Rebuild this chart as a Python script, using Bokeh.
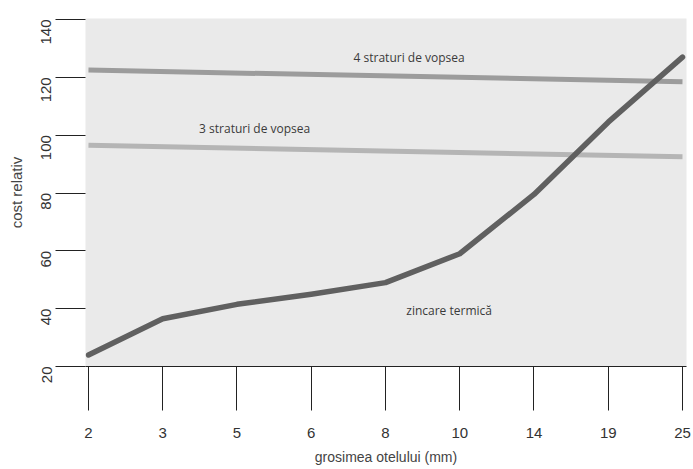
import math
from bokeh.plotting import figure
from bokeh.models import Range1d, FixedTicker, Label
from bokeh.embed import file_html
from bokeh.resources import INLINE

# ---- data ----
thickness_labels = ["2", "3", "5", "6", "8", "10", "14", "19", "25"]
zinc_cost = [24, 36.5, 41.5, 45, 49, 59, 79.5, 104.5, 127]
paint4_cost = [122.5, 118.5]   # start / end
paint3_cost = [96.5, 92.5]     # start / end
y_ticks = [20, 40, 60, 80, 100, 120, 140]

idx = list(range(len(thickness_labels)))
ends = [idx[0], idx[-1]]

p = figure(width=693, height=469, output_backend="svg", toolbar_location=None,
           x_range=Range1d(-0.04, 8.054), y_range=Range1d(20, 140.35),
           min_border_left=85, min_border_right=7, min_border_top=18,
           min_border_bottom=103)

p.background_fill_color = "#eaeaea"
p.border_fill_color = "white"
p.outline_line_color = None
p.grid.visible = False

# lines
p.line(ends, paint4_cost, line_color="#9c9c9c", line_width=5)
p.line(ends, paint3_cost, line_color="#b5b5b5", line_width=5)
p.line(idx, zinc_cost, line_color="#606060", line_width=5.5,
       line_cap="round", line_join="round")

# labels
lab_style = dict(text_font="Open Sans", text_font_size="12px",
                 text_color="#3a3a3a", text_baseline="middle")
p.add_layout(Label(x=3.57, y=126.8, text="4 straturi de vopsea", **lab_style))
p.add_layout(Label(x=1.49, y=102.3, text="3 straturi de vopsea", **lab_style))
p.add_layout(Label(x=4.28, y=39.4, text="zincare termică", **lab_style))

# x axis
xa = p.xaxis[0]
xa.ticker = FixedTicker(ticks=idx)
xa.major_label_overrides = {i: s for i, s in zip(idx, thickness_labels)}
xa.minor_tick_line_color = None
xa.major_tick_in = 0
xa.major_tick_out = 44
xa.major_tick_line_color = "#222222"
xa.axis_line_color = "#222222"
xa.major_label_standoff = 17
xa.major_label_text_font = "Liberation Sans"
xa.major_label_text_font_size = "15px"
xa.major_label_text_color = "#333333"
xa.axis_label = "grosimea otelului (mm)"
xa.axis_label_text_font = "Liberation Sans"
xa.axis_label_text_font_size = "14px"
xa.axis_label_text_font_style = "normal"
xa.axis_label_text_color = "#444444"
xa.axis_label_standoff = 8

# y axis
ya = p.yaxis[0]
ya.ticker = FixedTicker(ticks=y_ticks)
ya.minor_tick_line_color = None
ya.major_tick_in = 0
ya.major_tick_out = 30
ya.major_tick_line_color = "#222222"
ya.axis_line_color = None
ya.major_label_orientation = math.pi / 2
ya.major_label_standoff = 9
ya.major_label_text_font = "Liberation Sans"
ya.major_label_text_font_size = "15px"
ya.major_label_text_color = "#333333"
ya.axis_label = "cost relativ"
ya.axis_label_text_font = "Liberation Sans"
ya.axis_label_text_font_size = "15px"
ya.axis_label_text_font_style = "normal"
ya.axis_label_text_color = "#444444"
ya.axis_label_standoff = 9

open("out.html", "w").write(file_html(p, INLINE))
